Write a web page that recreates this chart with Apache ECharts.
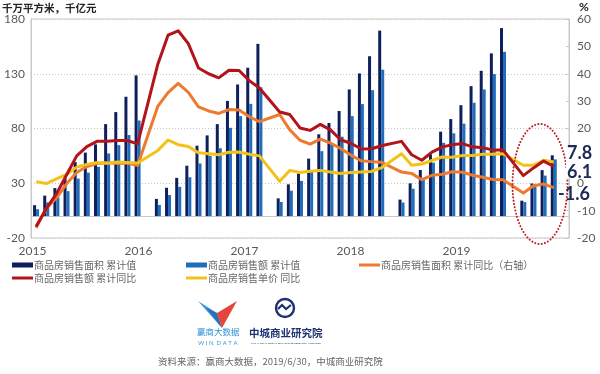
<!DOCTYPE html>
<html>
<head>
<meta charset="utf-8">
<script src="https://cdn.jsdelivr.net/npm/echarts@6/dist/echarts.min.js"></script>
<style>
html,body{margin:0;padding:0;background:#fff;}
#c{width:600px;height:374px;}
</style>
</head>
<body>
<div id="c"></div>
<script>
// ---- categories (monthly cumulative; January slots are empty) ----
const categories = [
 '2015-02','2015-03','2015-04','2015-05','2015-06','2015-07','2015-08','2015-09','2015-10','2015-11','2015-12',
 '2016-01','2016-02','2016-03','2016-04','2016-05','2016-06','2016-07','2016-08','2016-09','2016-10','2016-11','2016-12',
 '2017-01','2017-02','2017-03','2017-04','2017-05','2017-06','2017-07','2017-08','2017-09','2017-10','2017-11','2017-12',
 '2018-01','2018-02','2018-03','2018-04','2018-05','2018-06','2018-07','2018-08','2018-09','2018-10','2018-11','2018-12',
 '2019-01','2019-02','2019-03','2019-04','2019-05','2019-06'
];
const yearLabels = ['2015','2016','2017','2018','2019'];

// 商品房销售面积 累计值 (千万平方米)
const areaCum = [
 10.0,18.7,25.6,34.5,49.3,58.0,65.5,84.0,95.0,109.0,128.5,
 null,15.7,25.9,34.9,46.0,64.3,73.7,84.0,105.2,120.2,135.5,157.3,
 null,16.2,29.0,39.0,52.5,74.7,85.0,96.0,115.7,130.3,146.0,169.4,
 null,15.1,29.9,42.1,56.4,77.1,88.6,101.3,118.7,132.7,148.6,171.7,
 null,14.1,29.8,42.0,55.5,null
];
// 商品房销售额 累计值 (千亿元)
const amountCum = [
 6.3,12.5,17.1,22.8,34.3,39.7,45.1,57.2,64.8,74.0,87.3,
 null,10.2,19.2,26.7,35.5,48.1,55.0,62.0,80.6,91.3,102.5,117.6,
 null,12.9,23.2,32.1,42.1,59.3,66.5,72.5,91.3,102.3,115.0,133.7,
 null,12.4,25.0,34.2,48.8,66.9,75.6,84.4,103.5,115.7,129.7,150.0,
 null,12.8,27.0,37.0,51.8,null
];
// 商品房销售面积 累计同比 (%)
const areaYoY = [
 -16.3,-9.2,-5.4,-0.2,3.9,6.1,7.2,7.5,7.2,7.4,6.5,
 null,28.2,33.1,36.5,33.2,27.9,26.4,25.5,26.9,26.8,24.3,22.5,
 null,25.1,19.5,15.7,14.3,16.1,14.7,12.7,10.3,8.2,7.9,7.7,
 null,4.1,3.6,1.3,2.9,3.3,4.2,4.0,2.9,2.2,1.4,1.3,
 null,-3.6,-0.9,-0.3,-1.6,null
];
// 商品房销售额 累计同比 (%)
const amountYoY = [
 -15.8,-9.3,-3.9,3.0,10.0,13.4,15.3,15.3,15.6,15.6,14.4,
 null,43.6,54.1,55.7,51.0,42.1,40.0,38.5,41.3,41.2,37.5,34.8,
 null,26.0,25.1,20.2,19.3,21.5,19.5,15.9,14.6,12.6,12.5,13.7,
 null,15.3,10.4,8.4,11.4,13.2,14.1,14.5,13.3,13.0,12.1,12.2,
 null,2.8,5.6,8.1,6.1,null
];
// 商品房销售单价 同比 (%)
const priceYoY = [
 0.6,-0.1,1.6,3.2,5.9,6.9,7.6,7.3,7.8,7.6,7.4,
 null,12.0,15.8,14.1,13.4,11.1,10.8,10.4,11.3,11.4,10.6,10.0,
 null,0.7,4.7,3.9,4.4,4.7,4.1,3.6,3.9,4.1,4.3,5.6,
 null,10.8,6.6,7.0,8.3,9.6,9.5,10.1,10.1,10.6,10.6,10.8,
 null,6.6,6.6,8.4,7.8,null
];

const seriesNames = ['商品房销售面积 累计值','商品房销售额 累计值','商品房销售面积 累计同比（右轴）','商品房销售额 累计同比','商品房销售单价 同比'];
const colors = ['#0f1f5c','#1f6dbb','#ee7a2e','#b3141c','#f3c21a'];

const lastVal = arr => { for (let i = arr.length - 1; i >= 0; i--) if (arr[i] != null) return arr[i]; return null; };

const NUMFONT = 'Lato, "Noto Sans", sans-serif';
const CJK = '"Noto Sans CJK SC", "Noto Sans", sans-serif';

const chart = echarts.init(document.getElementById('c'), null, {renderer: 'canvas'});

const legendBase = {
  itemWidth: 21, itemHeight: 5, itemGap: 6,
  textStyle: {fontFamily: CJK, fontSize: 10, color: '#666', padding: [0,0,0,-4]},
  padding: 0
};

const option = {
  animation: false,
  backgroundColor: '#fff',
  grid: {left: 31, right: 31, top: 19, bottom: 136, show: true, borderColor: '#c9c9c9', borderWidth: 1},
  legend: [
    Object.assign({}, legendBase, {data: [{name: seriesNames[0], icon: 'rect'}], left: 12, top: 260}),
    Object.assign({}, legendBase, {data: [{name: seriesNames[1], icon: 'rect'}], left: 186, top: 260}),
    Object.assign({}, legendBase, {data: [{name: seriesNames[2], icon: 'rect'}], left: 359, top: 260, itemHeight: 3}),
    Object.assign({}, legendBase, {data: [{name: seriesNames[3], icon: 'rect'}], left: 12, top: 273, itemHeight: 3}),
    Object.assign({}, legendBase, {data: [{name: seriesNames[4], icon: 'rect'}], left: 186, top: 273, itemHeight: 3})
  ],
  xAxis: [
    {type: 'category', data: categories, boundaryGap: true,
     axisLine: {show: true, lineStyle: {color: '#c9c9c9'}}, axisTick: {show: false}, axisLabel: {show: false}},
    {type: 'value', min: 0, max: 538 / 106, interval: 1, position: 'bottom',
     axisLine: {show: false}, axisTick: {show: false}, splitLine: {show: false},
     axisLabel: {show: true, margin: 7, color: '#595959', fontSize: 12, fontFamily: NUMFONT, padding: [0,0,0,3],
       showMinLabel: true, showMaxLabel: true,
       formatter: v => { const i = Math.round(v); return (Math.abs(v - i) < 0.01 && yearLabels[i]) ? yearLabels[i] : ''; }}}
  ],
  yAxis: [
    {type: 'value', min: -20, max: 180, interval: 50,
     axisLine: {show: true, lineStyle: {color: '#c9c9c9'}}, axisTick: {show: false},
     axisLabel: {color: '#595959', fontSize: 12, fontFamily: NUMFONT, margin: 6},
     splitLine: {show: true, lineStyle: {color: '#c8c8c8', type: [1, 2], width: 1}}},
    {type: 'value', min: -20, max: 60, interval: 10, position: 'right',
     axisLine: {show: true, lineStyle: {color: '#c9c9c9'}},
     axisTick: {show: true, inside: true, length: 3, lineStyle: {color: '#c9c9c9'}},
     axisLabel: {color: '#595959', fontSize: 12, fontFamily: NUMFONT, margin: 8},
     splitLine: {show: false}}
  ],
  series: [
    {name: seriesNames[0], type: 'bar', data: areaCum, xAxisIndex: 0, yAxisIndex: 0, barWidth: 3, barGap: '0%',
     itemStyle: {color: colors[0]}, z: 2},
    {name: seriesNames[1], type: 'bar', data: amountCum, xAxisIndex: 0, yAxisIndex: 0, barWidth: 3,
     itemStyle: {color: colors[1]}, z: 2},
    {name: seriesNames[2], type: 'line', data: areaYoY, xAxisIndex: 0, yAxisIndex: 1, connectNulls: true,
     showSymbol: false, symbol: 'none', lineStyle: {color: colors[2], width: 3, join: 'round'}, itemStyle: {color: colors[2]}, z: 3},
    {name: seriesNames[3], type: 'line', data: amountYoY, xAxisIndex: 0, yAxisIndex: 1, connectNulls: true,
     showSymbol: false, symbol: 'none', lineStyle: {color: colors[3], width: 3, join: 'round'}, itemStyle: {color: colors[3]}, z: 4},
    {name: seriesNames[4], type: 'line', data: priceYoY, xAxisIndex: 0, yAxisIndex: 1, connectNulls: true,
     showSymbol: false, symbol: 'none', lineStyle: {color: colors[4], width: 3, join: 'round'}, itemStyle: {color: colors[4]}, z: 3}
  ],
  graphic: [
    {type: 'text', left: 2, top: 3, style: {text: '千万平方米，千亿元', font: 'bold 10.5px ' + CJK, fill: '#222'}},
    {type: 'text', left: 579, top: 1, style: {text: '%', font: 'bold 12px ' + NUMFONT, fill: '#222'}},
    {type: 'ellipse', shape: {cx: 540, cy: 184, rx: 27.5, ry: 60}, z: 10,
     style: {fill: 'none', stroke: '#c0202a', lineWidth: 2, lineDash: [0.1, 3.2], lineCap: 'round'}},
    {type: 'rect', shape: {x: 566, y: 146, width: 30, height: 32}, z: 10, style: {fill: '#fff'}},
    {type: 'text', left: 567, top: 144, z: 11, style: {text: lastVal(priceYoY).toFixed(1), font: 'bold 18px ' + NUMFONT, fill: '#1b2a57'}},
    {type: 'text', left: 567, top: 163, z: 11, style: {text: lastVal(amountYoY).toFixed(1), font: 'bold 18px ' + NUMFONT, fill: '#1b2a57'}},
    {type: 'text', left: 558, top: 185, z: 11, style: {text: lastVal(areaYoY).toFixed(1), font: 'bold 18px ' + NUMFONT, fill: '#1b2a57'}},
    // WIN DATA logo
    {type: 'polygon', shape: {points: [[198,301],[217,313],[222,328]]}, style: {fill: '#3d9ad8'}},
    {type: 'polygon', shape: {points: [[206,308],[217,313],[222,328]]}, style: {fill: '#2a6fb8'}},
    {type: 'polygon', shape: {points: [[217,313],[237,301],[222,328]]}, style: {fill: '#e4463b'}},
    {type: 'text', left: 197, top: 328, style: {text: '赢商大数据', font: '8.5px ' + CJK, fill: '#2a8fd6'}},
    {type: 'text', left: 198, top: 340, style: {text: 'W I N  D A T A', font: '6px ' + NUMFONT, fill: '#3a9ad8'}},
    // 中城 logo
    {type: 'circle', shape: {cx: 285, cy: 308, r: 9}, style: {fill: 'none', stroke: '#1b3170', lineWidth: 2.4}},
    {type: 'polyline', shape: {points: [[278,309],[282,305],[286,309],[291,305]]}, style: {stroke: '#1b3170', lineWidth: 2.2, fill: 'none'}},
    {type: 'text', left: 249, top: 328, style: {text: '中城商业研究院', font: 'bold 10.5px ' + CJK, fill: '#1b3170'}},
    {type: 'text', left: 251, top: 342, style: {text: 'CHINA COMMERCIAL REAL ESTATE RESEARCH INSTITUTE', font: '2.6px ' + NUMFONT, fill: '#1b3170'}},
    {type: 'text', left: 158, top: 357, style: {text: '资料来源：赢商大数据，2019/6/30，中城商业研究院', font: '9.5px ' + CJK, fill: '#666'}}
  ]
};
chart.setOption(option);
</script>
</body>
</html>
